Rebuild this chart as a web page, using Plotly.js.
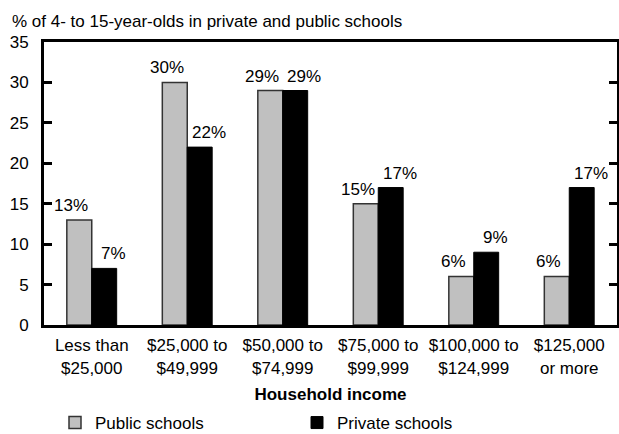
<!DOCTYPE html>
<html>
<head>
<meta charset="utf-8">
<script src="https://cdn.plot.ly/plotly-3.0.1.min.js"></script>
<style>html,body{margin:0;padding:0;background:#fff;}#chart{width:619px;height:434px;}</style>
</head>
<body>
<div id="chart"></div>
<script>
const categories = ["Less than<br>$25,000", "$25,000 to<br>$49,999", "$50,000 to<br>$74,999", "$75,000 to<br>$99,999", "$100,000 to<br>$124,999", "$125,000<br>or more"];
const publicSchools = [13, 30, 29, 15, 6, 6];
const privateSchools = [7, 22, 29, 17, 9, 17];
const yTicks = [0, 5, 10, 15, 20, 25, 30, 35];

const FONT = "Liberation Sans, Arial, sans-serif";
const FS = 17;
const bargap = 0.478;
const half = (1 - bargap) / 4;

const traces = [
  {type: "bar", name: "Public schools", x: categories, y: publicSchools,
   marker: {color: "#c0c0c0", line: {color: "#333333", width: 1.5}}, hoverinfo: "none"},
  {type: "bar", name: "Private schools", x: categories, y: privateSchools,
   marker: {color: "#000000", line: {color: "#000000", width: 1}}, hoverinfo: "none"}
];

const annotations = [];
publicSchools.forEach((v, i) => annotations.push({x: i - half, y: v, xref: "x", yref: "y", text: v + "%", showarrow: false, yanchor: "bottom", xshift: -8, yshift: 3, font: {family: FONT, size: FS, color: "#000"}}));
privateSchools.forEach((v, i) => annotations.push({x: i + half, y: v, xref: "x", yref: "y", text: v + "%", showarrow: false, yanchor: "bottom", xshift: 9, yshift: 3, font: {family: FONT, size: FS, color: "#000"}}));

const layout = {
  width: 619, height: 434,
  margin: {l: 44, r: 2, t: 42, b: 109, autoexpand: false},
  paper_bgcolor: "#fff", plot_bgcolor: "#fff",
  font: {family: FONT, size: FS, color: "#000"},
  title: {text: "% of 4- to 15-year-olds in private and public schools", x: 12/619, xanchor: "left", xref: "container", y: 1 - 21/434, yanchor: "middle", yref: "container", font: {family: FONT, size: FS, color: "#000"}},
  barmode: "group", bargap: bargap, bargroupgap: 0,
  xaxis: {type: "category", showline: true, linecolor: "#000", linewidth: 3, mirror: true, ticks: "", showgrid: false, zeroline: false,
          tickfont: {family: FONT, size: FS}, ticklabelstandoff: 3, title: {text: "<b>Household income</b>", font: {family: FONT, size: FS}, standoff: 12}},
  yaxis: {range: [0, 35], tickvals: yTicks, ticktext: yTicks.map(String), showline: true, linecolor: "#000", linewidth: 3, mirror: "ticks", ticks: "inside", ticklen: 8, tickwidth: 3, tickcolor: "#000", showgrid: false, zeroline: false,
          tickfont: {family: FONT, size: FS}, ticklabelstandoff: 9},
  showlegend: true,
  legend: {orientation: "h", x: 55/619, xref: "container", xanchor: "left", y: 1 - 423/434, yref: "container", yanchor: "middle", font: {family: FONT, size: FS}, entrywidth: 197, traceorder: "normal", itemclick: false},
  annotations: annotations
};

Plotly.newPlot("chart", traces, layout, {staticPlot: true, displayModeBar: false});
</script>
</body>
</html>
